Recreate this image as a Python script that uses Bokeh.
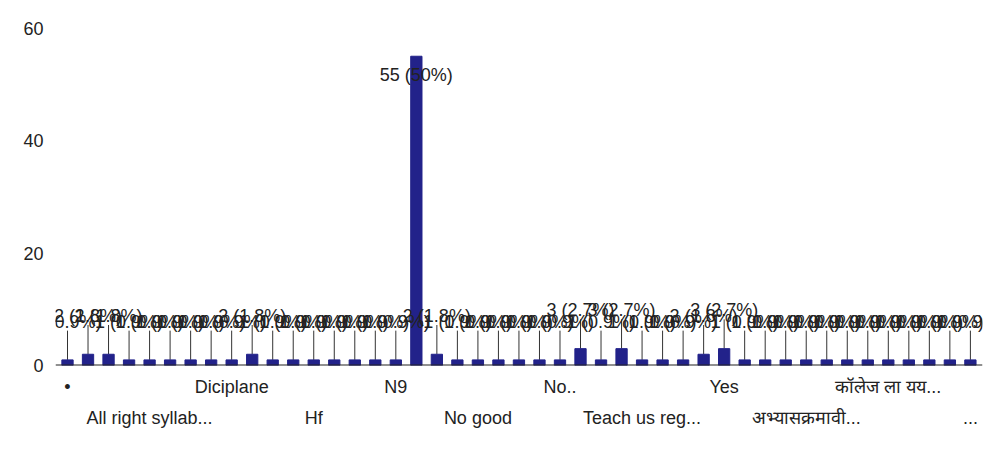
from bokeh.plotting import figure
from bokeh.models import ColumnDataSource, Range1d, LinearAxis, FixedTicker
from bokeh.core.properties import value
from bokeh.embed import file_html
from bokeh.resources import INLINE

# response counts, one per answer (45 answers, in chart order)
counts = [1, 2, 2, 1, 1, 1, 1, 1, 1, 2,
          1, 1, 1, 1, 1, 1, 1, 55, 2, 1,
          1, 1, 1, 1, 1, 3, 1, 3, 1, 1,
          1, 2, 3, 1, 1, 1, 1, 1, 1, 1,
          1, 1, 1, 1, 1]

# category labels shown on the x axis (every 4th answer), two alternating rows
row1_pos = [0, 8, 16, 24, 32, 40]
row1_labels = ["•", "Diciplane", "N9", "No..", "Yes", "कॉलेज ला यय..."]
row2_pos = [4, 12, 20, 28, 36, 44]
row2_labels = ["All right syllab...", "Hf", "No good", "Teach us reg...",
               "अभ्यासक्रमावी...", "..."]

y_ticks = [0, 20, 40, 60]

total = sum(counts)


def pct(v):
    p = round(v / total * 100, 1)
    s = f"{p:.1f}"
    if s.endswith(".0"):
        s = s[:-2]
    return f"{v} ({s}%)"


xs = list(range(len(counts)))
labels = [pct(v) for v in counts]
STEM = 5.2

small = [i for i, v in enumerate(counts) if v < 40]
big = [i for i, v in enumerate(counts) if v >= 40]

bars = ColumnDataSource(dict(x=xs, top=counts))
small_src = ColumnDataSource(dict(
    x=[xs[i] for i in small],
    y0=[counts[i] for i in small],
    y1=[counts[i] + STEM for i in small],
    text=[labels[i] for i in small]))
big_src = ColumnDataSource(dict(
    x=[xs[i] for i in big],
    y=[counts[i] for i in big],
    text=[labels[i] for i in big]))

FONT = "Liberation Sans"
TXT = "#222222"
FS = "18px"

p = figure(width=984, height=461, output_backend="svg", toolbar_location=None,
           x_range=Range1d(-0.585, 44.59), y_range=Range1d(0, 61),
           min_border_left=55, min_border_right=2, min_border_top=22,
           min_border_bottom=96, x_axis_location=None)
p.outline_line_color = None
p.xgrid.grid_line_color = None
p.ygrid.grid_line_color = None
p.background_fill_color = "white"
p.border_fill_color = "white"

# y axis
p.yaxis.ticker = FixedTicker(ticks=y_ticks)
p.yaxis.axis_line_color = None
p.yaxis.major_tick_line_color = None
p.yaxis.minor_tick_line_color = None
p.yaxis.major_label_text_font = FONT
p.yaxis.major_label_text_font_size = FS
p.yaxis.major_label_text_color = TXT
p.yaxis.major_label_standoff = 6

# x axes (two rows of labels)
ax1 = LinearAxis(ticker=FixedTicker(ticks=row1_pos),
                 major_label_overrides={pos: lab for pos, lab in zip(row1_pos, row1_labels)})
ax2 = LinearAxis(ticker=FixedTicker(ticks=row2_pos),
                 major_label_overrides={pos: lab for pos, lab in zip(row2_pos, row2_labels)})
for ax, so in ((ax1, 11), (ax2, 8)):
    ax.axis_line_color = None
    ax.major_tick_line_color = None
    ax.minor_tick_line_color = None
    ax.major_tick_out = 0
    ax.major_tick_in = 0
    ax.major_label_text_font = FONT
    ax.major_label_text_font_size = FS
    ax.major_label_text_color = TXT
    ax.major_label_standoff = so
    p.add_layout(ax, "below")

# stems
p.segment(x0="x", y0="y0", x1="x", y1="y1", source=small_src,
          line_color="#333333", line_width=1)

# bars
p.vbar(x="x", top="top", bottom=0, width=0.55, source=bars,
       fill_color="#22228a", line_color="#22228a")

# baseline
p.hspan(y=[0], line_color="#222222", line_width=2)

# value labels
p.text(x="x", y="y1", text="text", source=small_src,
       text_font=value(FONT), text_font_size=FS, text_color=TXT,
       text_align="center", text_baseline="bottom", y_offset=1)
p.text(x="x", y="y", text="text", source=big_src,
       text_font=value(FONT), text_font_size=FS, text_color=TXT,
       text_align="center", text_baseline="middle", y_offset=19)

open("out.html", "w").write(file_html(p, INLINE))
